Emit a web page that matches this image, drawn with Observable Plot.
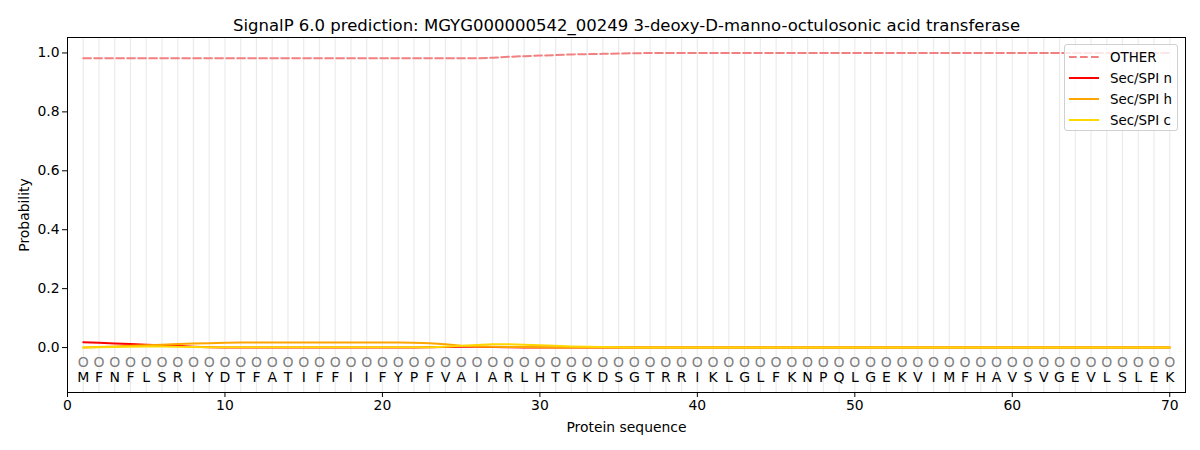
<!DOCTYPE html>
<html>
<head>
<meta charset="utf-8">
<script src="https://cdn.jsdelivr.net/npm/d3@7"></script>
<script src="https://cdn.jsdelivr.net/npm/@observablehq/plot@0.6"></script>
<style>
  body { margin: 0; background: #fff; font-family: "DejaVu Sans", sans-serif; }
  #wrap { position: relative; width: 1200px; height: 450px; }
  #legend { position: absolute; left: 1064px; top: 44px; width: 114px; height: 87px;
    border: 1px solid #d0d0d0; border-radius: 3px; background: rgba(255,255,255,0.8);
    font-size: 13.4px; box-sizing: border-box; }
  .li { position: absolute; left: 4px; height: 20px; display: flex; align-items: center; white-space: nowrap; }
  .li svg { width: 30px; height: 4px; margin-right: 11px; flex: none; }
</style>
</head>
<body>
<div id="wrap"><div id="chart"></div><div id="legend"></div></div>
<script>
const title = "SignalP 6.0 prediction: MGYG000000542_00249 3-deoxy-D-manno-octulosonic acid transferase";
const residues = "MFNFLSRIYDTFATIFFIIFYPFVAIARLHTGKDSGTRRIKLGLFKNPQLGEKVIMFHAVSVGEVLSLEK".split("");
const regionLabels = residues.map(() => "O");
const positions = d3.range(1, residues.length + 1);

const otherVals = [0.982,0.982,0.982,0.982,0.982,0.982,0.982,0.982,0.982,0.982,
  0.982,0.982,0.982,0.982,0.982,0.982,0.982,0.982,0.982,0.982,
  0.982,0.982,0.982,0.982,0.982,0.982,0.984,0.987,0.989,0.991,
  0.993,0.995,0.996,0.997,0.998,0.999,1.0,1.0,1.0,1.0,
  1.0,1.0,1.0,1.0,1.0,1.0,1.0,1.0,1.0,1.0,
  1.0,1.0,1.0,1.0,1.0,1.0,1.0,1.0,1.0,1.0,
  1.0,1.0,1.0,1.0,1.0,1.0,1.0,1.0,1.0,1.0];
const secN = [0.018,0.016,0.014,0.012,0.010,0.008,0.006,0.003,0.001,0,
  0,0,0,0,0,0,0,0,0,0,
  0,0,0.001,0.002,0.003,0.003,0.002,0.001,0,0,
  0,0,0,0,0,0,0,0,0,0,
  0,0,0,0,0,0,0,0,0,0,
  0,0,0,0,0,0,0,0,0,0,
  0,0,0,0,0,0,0,0,0,0];
const secH = [0.0,0.002,0.004,0.006,0.008,0.010,0.012,0.014,0.015,0.016,
  0.017,0.017,0.017,0.017,0.017,0.017,0.017,0.017,0.017,0.017,
  0.017,0.016,0.015,0.011,0.006,0.004,0.003,0.002,0.002,0.001,
  0,0,0,0,0,0,0,0,0,0,
  0,0,0,0,0,0,0,0,0,0,
  0,0,0,0,0,0,0,0,0,0,
  0,0,0,0,0,0,0,0,0,0];
const secC = [0.0,0.001,0.002,0.003,0.004,0.004,0.003,0.002,0.001,0.001,
  0.001,0.001,0.001,0.001,0.001,0.001,0.001,0.001,0.001,0.001,
  0.001,0.001,0.001,0.003,0.006,0.009,0.011,0.011,0.010,0.008,
  0.006,0.004,0.003,0.002,0.001,0,0,0,0,0,
  0,0,0,0,0,0,0,0,0,0,
  0,0,0,0,0,0,0,0,0,0,
  0,0,0,0,0,0,0,0,0,0];

const seriesNames = ["OTHER", "Sec/SPI n", "Sec/SPI h", "Sec/SPI c"];
const seriesVals = [otherVals, secN, secH, secC];
const seriesColors = ["#f28080", "#ff0000", "#ffa500", "#ffd700"];
const seriesDash = ["7.7,3.3", null, null, null];

const xTicks = [0, 10, 20, 30, 40, 50, 60, 70];
const yTicks = [0, 0.2, 0.4, 0.6, 0.8, 1.0];

const rows = positions.map((p, i) => ({pos: p, aa: residues[i], lab: regionLabels[i]}));

const lineMarks = seriesVals.map((vals, k) =>
  Plot.line(positions.map((p, i) => ({x: p, y: vals[i]})), {
    x: "x", y: "y", stroke: seriesColors[k], strokeWidth: 2,
    strokeDasharray: seriesDash[k] || undefined
  })
);

const chart = Plot.plot({
  width: 1200, height: 450,
  marginLeft: 67, marginRight: 15, marginTop: 37, marginBottom: 58,
  style: {fontFamily: "DejaVu Sans, sans-serif", fontSize: "13.9px", background: "#fff", color: "#000"},
  x: {domain: [0, 71], ticks: xTicks, tickFormat: d => String(d), label: "Protein sequence",
      labelAnchor: "center", labelArrow: "none"},
  y: {domain: [-0.1525, 1.0525], ticks: yTicks, tickFormat: d3.format(".1f"), label: "Probability",
      labelAnchor: "center", labelArrow: "none"},
  marks: [
    Plot.ruleX(positions, {x: d => d, stroke: "#e6e6e6", strokeWidth: 1.2, strokeOpacity: 0.8}),
    ...lineMarks,
    Plot.text(rows, {x: "pos", y: () => -0.05, text: "lab", fill: "#808080", fontSize: 14}),
    Plot.text(rows, {x: "pos", y: () => -0.1, text: "aa", fill: "#000", fontSize: 14}),
    Plot.frame({stroke: "#000", strokeWidth: 1}),
    Plot.axisX({ticks: xTicks, tickSize: 5, tickPadding: 3, label: "Protein sequence", labelAnchor: "center", labelArrow: "none", labelOffset: 39}),
    Plot.axisY({ticks: yTicks, tickSize: 5, tickPadding: 3, tickFormat: d3.format(".1f"), label: "Probability", labelAnchor: "center", labelArrow: "none", labelOffset: 48}),
    Plot.text([title], {frameAnchor: "top", dy: -18, text: d => d, fontSize: 16.5, fill: "#000"})
  ]
});
document.getElementById("chart").appendChild(chart);

const legend = document.getElementById("legend");
seriesNames.forEach((name, k) => {
  const div = document.createElement("div");
  div.className = "li";
  div.style.top = (2 + k * 21) + "px";
  div.innerHTML = `<svg viewBox="0 0 30 4"><line x1="0" y1="2" x2="30" y2="2" stroke="${seriesColors[k]}" stroke-width="2" ${seriesDash[k] ? `stroke-dasharray="${seriesDash[k]}"` : ""}/></svg><span>${name}</span>`;
  legend.appendChild(div);
});
</script>
</body>
</html>
